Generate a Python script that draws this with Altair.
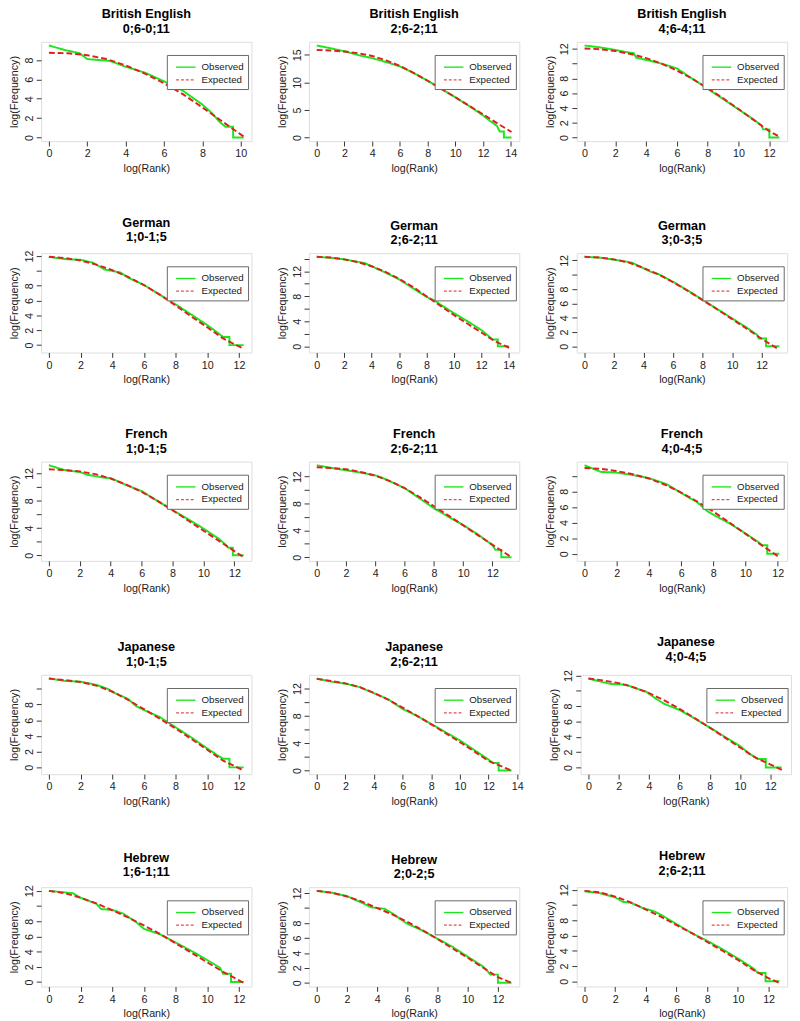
import altair as alt
import pandas as pd

FONT = "Liberation Sans"

panel_titles = [
    ("British English", "0;6-0;11"), ("British English", "2;6-2;11"), ("British English", "4;6-4;11"),
    ("German", "1;0-1;5"), ("German", "2;6-2;11"), ("German", "3;0-3;5"),
    ("French", "1;0-1;5"), ("French", "2;6-2;11"), ("French", "4;0-4;5"),
    ("Japanese", "1;0-1;5"), ("Japanese", "2;6-2;11"), ("Japanese", "4;0-4;5"),
    ("Hebrew", "1;6-1;11"), ("Hebrew", "2;0-2;5"), ("Hebrew", "2;6-2;11"),
]

# (log(Rank), log(Frequency))
p01_observed = [(0, 9.5), (0.8, 9.05), (1.6, 8.7), (2.0, 8.1), (3.2, 7.9), (4.0, 7.3), (5.0, 6.7), (6.0, 5.8), (7.0, 4.8), (7.5, 4.1), (8.0, 3.4), (8.5, 2.5), (8.9, 1.6), (9.2, 1.1), (9.6, 1.1), (9.6, 0.0), (10.15, 0.0)]
p01_expected = [(0, 8.75), (1, 8.7), (2, 8.5), (3, 8.1), (4, 7.45), (5, 6.6), (6, 5.6), (7, 4.45), (8, 3.1), (9, 1.7), (10.15, 0.1)]

p02_observed = [(0, 16.7), (1, 16.2), (2, 15.65), (3, 14.95), (4, 14.4), (5, 13.7), (6, 12.9), (7, 11.7), (8, 10.3), (9, 8.8), (10, 7.3), (11, 5.7), (12, 4.0), (12.5, 3.0), (13.0, 2.1), (13.2, 1.1), (13.5, 1.1), (13.5, 0.0), (14.05, 0.0)]
p02_expected = [(0, 15.9), (1, 15.8), (2, 15.6), (3, 15.3), (4, 14.8), (5, 14.0), (6, 13.0), (7, 11.7), (8, 10.3), (9, 8.8), (10, 7.3), (11, 5.75), (12, 4.2), (13, 2.6), (14.05, 1.0)]

p03_observed = [(0, 12.45), (1, 12.2), (2, 11.85), (2.6, 11.6), (3.2, 11.4), (3.35, 10.8), (4, 10.5), (5, 10.0), (6, 9.35), (7, 7.95), (8, 6.6), (9, 5.2), (10, 3.8), (11, 2.4), (11.5, 1.6), (11.6, 1.1), (12.0, 1.1), (12.0, 0.0), (12.65, 0.0)]
p03_expected = [(0, 12.05), (1, 11.95), (2, 11.7), (3, 11.3), (4, 10.75), (5, 10.0), (6, 9.05), (7, 7.95), (8, 6.65), (9, 5.3), (10, 3.85), (11, 2.35), (12, 0.85), (12.65, 0.1)]

p04_observed = [(0, 11.9), (1, 11.6), (2, 11.5), (2.8, 11.1), (3.5, 10.2), (4.5, 9.8), (5.0, 9.1), (6, 8.1), (7, 6.8), (8, 5.5), (9, 4.1), (10, 2.7), (10.7, 1.6), (11.0, 1.1), (11.4, 1.1), (11.4, 0.0), (12.3, 0.0)]
p04_expected = [(0, 11.9), (1, 11.75), (2, 11.4), (3, 10.85), (4, 10.1), (5, 9.2), (6, 8.1), (7, 6.8), (8, 5.35), (9, 3.85), (10, 2.4), (11, 0.9), (12.3, -0.5)]

p05_observed = [(0, 14.3), (1, 14.15), (2, 13.9), (3, 13.5), (3.5, 13.3), (4, 12.8), (5, 11.8), (6, 10.7), (6.5, 10.0), (7, 9.3), (8, 7.9), (8.6, 7.3), (9, 6.7), (10, 5.3), (11, 4.0), (12, 2.6), (12.5, 1.7), (12.8, 1.1), (13.2, 1.1), (13.2, 0.0), (14.0, 0.0)]
p05_expected = [(0, 14.3), (1, 14.2), (2, 13.9), (3, 13.45), (4, 12.8), (5, 11.9), (6, 10.8), (7, 9.5), (8, 8.0), (9, 6.5), (10, 5.0), (11, 3.6), (12, 2.2), (13, 0.8), (14.2, -0.4)]

p06_observed = [(0, 12.5), (1, 12.4), (2, 12.1), (3.2, 11.7), (3.5, 11.4), (4.5, 10.4), (5, 10.1), (6, 9.0), (7, 7.8), (8, 6.5), (9, 5.2), (10, 3.9), (11, 2.6), (11.7, 1.6), (11.8, 1.1), (12.3, 1.1), (12.3, 0.0), (13.2, 0.0)]
p06_expected = [(0, 12.5), (1, 12.4), (2, 12.15), (3, 11.7), (4, 10.95), (5, 10.05), (6, 8.95), (7, 7.75), (8, 6.45), (9, 5.15), (10, 3.8), (11, 2.45), (12, 1.05), (13.1, -0.35)]

p07_observed = [(0, 13.2), (1, 12.5), (2, 12.2), (2.5, 11.8), (3.5, 11.4), (4, 11.3), (5, 10.3), (6, 9.4), (7, 8.0), (8, 6.6), (9, 5.3), (10, 3.9), (11, 2.4), (11.4, 1.6), (11.6, 1.1), (11.9, 1.1), (11.9, 0.0), (12.6, 0.0)]
p07_expected = [(0, 12.6), (1, 12.5), (2, 12.3), (3, 11.9), (4, 11.25), (5, 10.35), (6, 9.3), (7, 8.0), (8, 6.6), (9, 5.1), (10, 3.6), (11, 2.1), (12, 0.6), (12.6, -0.3)]

p08_observed = [(0, 13.7), (1, 13.3), (2, 12.95), (3, 12.6), (4, 12.2), (4.4, 11.9), (5, 11.3), (6, 10.3), (7, 8.8), (8, 7.3), (9, 6.0), (10, 4.8), (11, 3.4), (12, 1.8), (12.2, 1.1), (12.6, 1.1), (12.6, 0.0), (13.3, 0.0)]
p08_expected = [(0, 13.4), (1, 13.3), (2, 13.1), (3, 12.7), (4, 12.15), (5, 11.35), (6, 10.3), (7, 9.0), (8, 7.6), (9, 6.2), (10, 4.75), (11, 3.3), (12, 1.85), (13.3, 0.0)]

p09_observed = [(0, 11.35), (1, 10.5), (2, 10.4), (3, 10.1), (4, 9.7), (5, 9.0), (5.2, 8.8), (6, 7.8), (7, 6.6), (7.6, 5.5), (8, 5.0), (9, 3.9), (10, 2.6), (10.5, 1.9), (10.8, 1.5), (11.0, 1.1), (11.35, 1.1), (11.35, 0.0), (12.1, 0.0)]
p09_expected = [(0, 11.0), (1, 10.9), (2, 10.6), (3, 10.2), (4, 9.65), (5, 8.85), (6, 7.85), (7, 6.7), (8, 5.4), (9, 4.0), (10, 2.55), (11, 1.1), (12.1, -0.45)]

p10_observed = [(0, 11.3), (1, 11.0), (2, 10.9), (3, 10.5), (3.7, 10.0), (4, 9.6), (5, 8.7), (5.5, 7.8), (6, 7.3), (7, 6.4), (8, 5.1), (9, 3.8), (10, 2.4), (10.6, 1.6), (11, 1.1), (11.4, 1.1), (11.4, 0.0), (12.3, 0.0)]
p10_expected = [(0, 11.3), (1, 11.1), (2, 10.85), (3, 10.4), (4, 9.65), (5, 8.6), (6, 7.4), (7, 6.2), (8, 4.95), (9, 3.6), (10, 2.25), (11, 0.85), (12.3, -0.4)]

p11_observed = [(0, 13.45), (1, 13.0), (2, 12.7), (3, 12.2), (4, 11.3), (5, 10.4), (6, 9.0), (7, 8.0), (8, 6.8), (9, 5.6), (10, 4.4), (11, 3.0), (12, 1.6), (12.3, 1.1), (12.7, 1.1), (12.7, 0.0), (13.6, 0.0)]
p11_expected = [(0, 13.4), (1, 13.1), (2, 12.75), (3, 12.2), (4, 11.35), (5, 10.35), (6, 9.2), (7, 8.0), (8, 6.75), (9, 5.45), (10, 4.15), (11, 2.8), (12, 1.4), (13.6, 0.0)]

p12_observed = [(0, 11.6), (1, 11.1), (1.5, 10.9), (2.5, 10.8), (3, 10.4), (3.8, 9.9), (4.5, 8.9), (5, 8.3), (6, 7.5), (7, 6.4), (8, 5.2), (9, 4.0), (10, 2.8), (10.6, 1.8), (11.2, 1.1), (11.7, 1.1), (11.7, 0.0), (12.75, 0.0)]
p12_expected = [(0, 11.6), (1, 11.35), (2, 11.0), (3, 10.45), (4, 9.7), (5, 8.75), (6, 7.65), (7, 6.45), (8, 5.2), (9, 3.9), (10, 2.6), (11, 1.3), (12.85, -0.4)]

p13_observed = [(0, 12.0), (1, 11.8), (1.5, 11.7), (2, 11.1), (3, 10.3), (3.3, 9.6), (4, 9.5), (4.7, 9.0), (5.5, 7.9), (6, 7.0), (7, 6.3), (8, 5.2), (9, 4.1), (10, 2.9), (10.8, 1.9), (11.0, 1.1), (11.5, 1.1), (11.5, 0.0), (12.3, 0.0)]
p13_expected = [(0, 12.0), (1, 11.7), (2, 11.1), (3, 10.35), (4, 9.45), (5, 8.5), (6, 7.45), (7, 6.35), (8, 5.1), (9, 3.85), (10, 2.6), (11, 1.35), (12.3, -0.1)]

p14_observed = [(0, 12.3), (1, 12.05), (2, 11.6), (3, 10.7), (3.6, 10.1), (4.5, 9.9), (5, 9.3), (5.7, 8.3), (6, 7.9), (7, 7.0), (8, 5.9), (9, 4.8), (10, 3.5), (11, 2.2), (11.3, 1.6), (11.5, 1.1), (12.0, 1.1), (12.0, 0.0), (12.9, 0.0)]
p14_expected = [(0, 12.3), (1, 12.05), (2, 11.55), (3, 10.85), (4, 10.0), (5, 9.15), (6, 8.15), (7, 7.05), (8, 5.85), (9, 4.6), (10, 3.35), (11, 2.05), (12, 0.75), (12.9, 0.0)]

p15_observed = [(0, 11.8), (1, 11.55), (2, 11.0), (2.5, 10.4), (3, 10.3), (3.8, 9.6), (4.5, 9.2), (5, 8.7), (6, 7.5), (7, 6.3), (8, 5.3), (9, 4.2), (10, 3.0), (11, 1.7), (11.3, 1.1), (11.8, 1.1), (11.8, 0.0), (12.7, 0.0)]
p15_expected = [(0, 11.85), (1, 11.65), (2, 11.1), (3, 10.35), (4, 9.4), (5, 8.45), (6, 7.35), (7, 6.3), (8, 5.15), (9, 4.0), (10, 2.8), (11, 1.5), (12, 0.4), (12.7, -0.2)]

observed_series = [p01_observed, p02_observed, p03_observed, p04_observed, p05_observed,
                   p06_observed, p07_observed, p08_observed, p09_observed, p10_observed,
                   p11_observed, p12_observed, p13_observed, p14_observed, p15_observed]
expected_series = [p01_expected, p02_expected, p03_expected, p04_expected, p05_expected,
                   p06_expected, p07_expected, p08_expected, p09_expected, p10_expected,
                   p11_expected, p12_expected, p13_expected, p14_expected, p15_expected]

# axis ticks
x_ticks = [
    [0, 2, 4, 6, 8, 10], [0, 2, 4, 6, 8, 10, 12, 14], [0, 2, 4, 6, 8, 10, 12],
    [0, 2, 4, 6, 8, 10, 12], [0, 2, 4, 6, 8, 10, 12, 14], [0, 2, 4, 6, 8, 10, 12],
    [0, 2, 4, 6, 8, 10, 12], [0, 2, 4, 6, 8, 10, 12], [0, 2, 4, 6, 8, 10, 12],
    [0, 2, 4, 6, 8, 10, 12], [0, 2, 4, 6, 8, 10, 12, 14], [0, 2, 4, 6, 8, 10, 12],
    [0, 2, 4, 6, 8, 10, 12], [0, 2, 4, 6, 8, 10, 12], [0, 2, 4, 6, 8, 10, 12],
]
y_ticks = [
    [0, 2, 4, 6, 8], [0, 5, 10, 15], [0, 2, 4, 6, 8, 10, 12],
    [0, 2, 4, 6, 8, 10, 12], [0, 2, 4, 6, 8, 10, 12, 14], [0, 2, 4, 6, 8, 10, 12],
    [0, 2, 4, 6, 8, 10, 12], [0, 2, 4, 6, 8, 10, 12], [0, 2, 4, 6, 8, 10],
    [0, 2, 4, 6, 8, 10], [0, 2, 4, 6, 8, 10, 12], [0, 2, 4, 6, 8, 10, 12],
    [0, 2, 4, 6, 8, 10, 12], [0, 2, 4, 6, 8, 10, 12], [0, 2, 4, 6, 8, 10, 12],
]
y_tick_labels = [
    [0, 2, 4, 6, 8], [0, 5, 10, 15], [0, 2, 4, 6, 8, 12],
    [0, 2, 4, 6, 8, 12], [0, 4, 8, 12], [0, 2, 4, 6, 8, 12],
    [0, 4, 8, 12], [0, 4, 8, 12], [0, 2, 4, 6, 8],
    [0, 2, 4, 6, 8], [0, 4, 8, 12], [0, 2, 4, 6, 8, 12],
    [0, 2, 4, 6, 8, 12], [0, 2, 4, 6, 8, 12], [0, 2, 4, 6, 8, 12],
]

legend_labels = ["Observed", "Expected"]

W, H = 216, 102
GREEN = "#1ee61e"
RED = "#e02020"
AXIS_COL = "#333333"


def padded(values):
    lo, hi = min(values), max(values)
    d = 0.04 * (hi - lo)
    return [lo - d, hi + d]


def one_row():
    return pd.DataFrame({"k": [0]})


def panel(i):
    obs = pd.DataFrame(observed_series[i], columns=["x", "y"])
    obs["s"] = legend_labels[0]
    exp = pd.DataFrame(expected_series[i], columns=["x", "y"])
    exp["s"] = legend_labels[1]
    df = pd.concat([obs, exp], ignore_index=True)
    df["i"] = range(len(df))
    xscale = alt.Scale(domain=padded(list(df["x"])), nice=False, zero=False)
    yscale = alt.Scale(domain=padded(list(df["y"])), nice=False, zero=False)
    cond = " || ".join("datum.value == " + str(v) for v in y_tick_labels[i])
    xaxis = alt.Axis(values=x_ticks[i], title="log(Rank)", grid=False, domain=False,
                     tickSize=5, tickColor=AXIS_COL, labelColor="#222", labelFont=FONT,
                     labelFontSize=11, labelPadding=2, labelFlush=False, labelOverlap=False,
                     labelBound=False, titleFont=FONT, titleFontSize=11,
                     titleFontWeight="normal", titleColor="#222", titlePadding=4)
    yaxis = alt.Axis(values=y_ticks[i], title="log(Frequency)", grid=False, domain=False,
                     tickSize=5, tickColor=AXIS_COL, labelColor="#222", labelFont=FONT,
                     labelFontSize=11, labelPadding=2, labelAngle=270, labelAlign="center",
                     labelBaseline="bottom", labelFlush=False, labelOverlap=False,
                     labelBound=False,
                     labelExpr="(" + cond + ") ? datum.label : ''",
                     titleFont=FONT, titleFontSize=11, titleFontWeight="normal",
                     titleColor="#222", titlePadding=4)
    lines = alt.Chart(df).mark_line(strokeWidth=2).encode(
        x=alt.X("x:Q", scale=xscale, axis=xaxis),
        y=alt.Y("y:Q", scale=yscale, axis=yaxis),
        color=alt.Color("s:N", scale=alt.Scale(domain=legend_labels, range=[GREEN, RED]), legend=None),
        strokeDash=alt.StrokeDash("s:N", scale=alt.Scale(domain=legend_labels, range=[[1, 0], [6, 3]]), legend=None),
        order="i:Q",
    )
    lx0, lx1 = 0.6 * W, W - 3
    box = alt.Chart(one_row()).mark_rect(fill="white", stroke="#666", strokeWidth=1).encode(
        x=alt.value(lx0), x2=alt.value(lx1), y=alt.value(14), y2=alt.value(49))
    sym_obs = alt.Chart(one_row()).mark_rule(color=GREEN, strokeWidth=1.4).encode(
        x=alt.value(lx0 + 9), x2=alt.value(lx0 + 29), y=alt.value(26))
    sym_exp = alt.Chart(one_row()).mark_rule(color=RED, strokeWidth=1.2, strokeDash=[3, 2], opacity=0.8).encode(
        x=alt.value(lx0 + 9), x2=alt.value(lx0 + 29), y=alt.value(39))
    txt_obs = alt.Chart(one_row()).mark_text(align="left", baseline="middle", font=FONT,
                                             fontSize=10, color="#222").encode(
        x=alt.value(lx0 + 35), y=alt.value(26), text=alt.value(legend_labels[0]))
    txt_exp = alt.Chart(one_row()).mark_text(align="left", baseline="middle", font=FONT,
                                             fontSize=10, color="#222").encode(
        x=alt.value(lx0 + 35), y=alt.value(39), text=alt.value(legend_labels[1]))
    lang, age = panel_titles[i]
    return alt.layer(lines, box, sym_obs, sym_exp, txt_obs, txt_exp).properties(
        width=W, height=H,
        title=alt.TitleParams(text=[lang, age], font=FONT, fontSize=13, fontWeight="bold",
                              color="black", anchor="middle", frame="group", offset=6,
                              lineHeight=15),
    )


rows = []
for r in range(5):
    rows.append(alt.hconcat(*[panel(3 * r + c) for c in range(3)], spacing=24))

chart = alt.vconcat(*rows, spacing=43).properties(
    padding={"left": 0, "top": -14, "right": 0, "bottom": 0}
).configure_view(stroke="#555", strokeWidth=1).configure(background="white")

chart.save("out.html", embed_options={"renderer": "svg", "actions": False})
